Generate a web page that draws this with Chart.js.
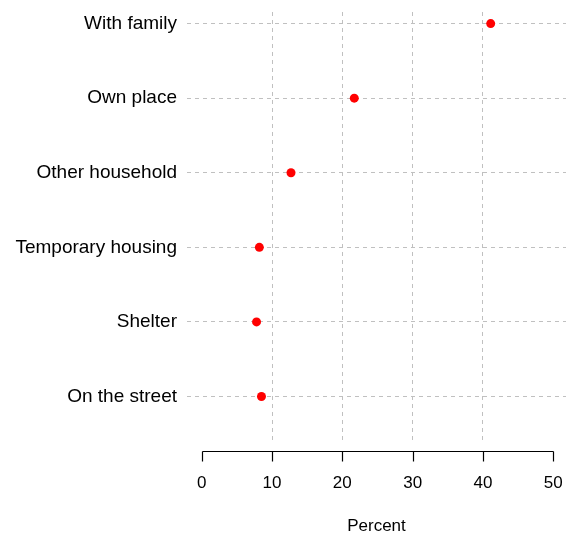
<!DOCTYPE html>
<html>
<head>
<meta charset="utf-8">
<script src="https://cdn.jsdelivr.net/npm/chart.js@4/dist/chart.umd.min.js"></script>
<style>
  html, body { margin: 0; padding: 0; background: #ffffff; }
  #wrap { width: 566px; height: 535px; }
</style>
</head>
<body>
<div id="wrap"><canvas id="c" width="566" height="535"></canvas></div>
<script>
const categories = ["With family", "Own place", "Other household", "Temporary housing", "Shelter", "On the street"];
const percentValues = [41.1, 21.7, 12.7, 8.2, 7.8, 8.5];
const xTickValues = [0, 10, 20, 30, 40, 50];
const xAxisTitle = "Percent";

const FONT = '"Liberation Sans", Arial, Helvetica, sans-serif';
const GRID = '#c0c0c0';

// row position: first category at top
const rowPos = categories.map((c, i) => categories.length - i);
const points = percentValues.map((v, i) => ({ x: v, y: rowPos[i] }));

const axisPlugin = {
  id: 'baseAxis',
  afterDraw(chart) {
    const xs = chart.scales.x;
    const ctx = chart.ctx;
    const y0 = Math.round(chart.chartArea.bottom + 9) + 0.5;
    const x0 = Math.round(xs.getPixelForValue(xTickValues[0])) + 0.5;
    const x1 = Math.round(xs.getPixelForValue(xTickValues[xTickValues.length - 1])) + 0.5;
    ctx.save();
    ctx.strokeStyle = '#000000';
    ctx.lineWidth = 1.2;
    ctx.setLineDash([]);
    ctx.beginPath();
    ctx.moveTo(x0, y0);
    ctx.lineTo(x1, y0);
    xTickValues.forEach(v => {
      const px = Math.round(xs.getPixelForValue(v)) + 0.5;
      ctx.moveTo(px, y0);
      ctx.lineTo(px, y0 + 10);
    });
    ctx.stroke();
    ctx.restore();
  }
};

new Chart(document.getElementById('c'), {
  type: 'scatter',
  data: {
    datasets: [{
      data: points,
      backgroundColor: '#ff0000',
      borderColor: '#ff0000',
      borderWidth: 0,
      pointRadius: 4.5,
      pointHoverRadius: 4.5
    }]
  },
  options: {
    responsive: false,
    animation: false,
    events: [],
    layout: { autoPadding: false, padding: { top: 12, left: 0, right: 0, bottom: 0 } },
    plugins: { legend: { display: false }, tooltip: { enabled: false } },
    scales: {
      x: {
        type: 'linear',
        min: -2.09,
        max: 51.81,
        afterFit(s) { s.height = 93; s.paddingLeft = 0; s.paddingRight = 0; },
        afterBuildTicks(s) { s.ticks = xTickValues.map(v => ({ value: v })); },
        border: { display: false, dash: [4, 4] },
        grid: {
          drawTicks: false,
          lineWidth: 1,
          color: ctx => (ctx.tick && (ctx.tick.value === xTickValues[0] || ctx.tick.value === xTickValues[xTickValues.length - 1])) ? 'rgba(0,0,0,0)' : GRID
        },
        ticks: {
          color: '#000000',
          padding: 31,
          maxRotation: 0,
          font: { family: FONT, size: 17 }
        },
        title: {
          display: true,
          text: xAxisTitle,
          color: '#000000',
          padding: { top: 0, bottom: -2 },
          font: { family: FONT, size: 17 }
        }
      },
      y: {
        type: 'linear',
        min: 0.39,
        max: 6.155,
        afterFit(s) { s.width = 187; s.paddingTop = 0; s.paddingBottom = 0; },
        afterBuildTicks(s) { s.ticks = rowPos.map(v => ({ value: v })); },
        border: { display: false, dash: [4, 4] },
        grid: {
          drawTicks: false,
          lineWidth: 1,
          color: GRID
        },
        ticks: {
          color: '#000000',
          padding: 10,
          font: { family: FONT, size: 19 },
          callback: v => {
            const i = rowPos.indexOf(v);
            return i >= 0 ? categories[i] : '';
          }
        }
      }
    }
  },
  plugins: [axisPlugin]
});
</script>
</body>
</html>
